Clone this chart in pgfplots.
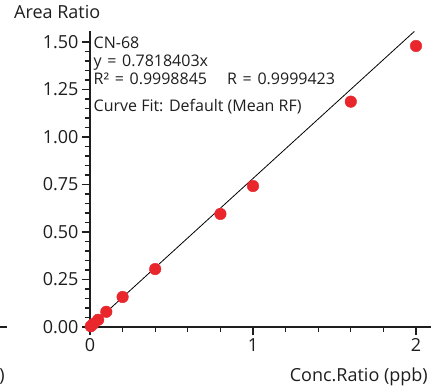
\documentclass[border=0pt]{standalone}
\usepackage{pgfplots}
\pgfplotsset{compat=1.18}
\usepackage{fontspec}
\setmainfont{Open Sans}
\definecolor{dotred}{RGB}{232,38,43}
\definecolor{txt}{RGB}{30,30,30}
\newcommand{\fs}{\fontsize{18bp}{20bp}\selectfont}
\newcommand{\fa}{\fontsize{16bp}{18bp}\selectfont}
\newcommand{\eq}{\hspace{1.5bp} = \hspace{1.5bp}}
\begin{document}
\begin{tikzpicture}
\path[use as bounding box] (-90bp,-64bp) rectangle (347bp,327bp);
\begin{axis}[
  at={(0,0)}, anchor=origin,
  x=163bp, y=190bp,
  xmin=0, xmax=2.09, ymin=0, ymax=1.558,
  axis x line*=bottom, axis y line*=left,
  axis line style={line width=1.6bp, color=txt},
  xtick={0,1,2}, minor x tick num=4,
  ytick={0,0.25,0.5,0.75,1,1.25,1.5}, minor y tick num=4,
  tick align=outside,
  major tick length=8bp, minor tick length=5bp,
  every tick/.style={line width=1.3bp, color=txt},
  tick label style={font=\fs, color=txt},
  /pgf/number format/assume math mode=true,
  yticklabel style={/pgf/number format/.cd, fixed, fixed zerofill, precision=2},
  xticklabel style={/pgf/number format/.cd, fixed, precision=0},
  clip=false,
]
\addplot[black, line width=0.8bp, no marks] coordinates {(0,0) (1.99,1.5558)};
\addplot[only marks, mark=*, mark size=5.8bp, color=dotred, mark options={draw=dotred, fill=dotred}] coordinates {
(0.005,0.004) (0.02,0.016) (0.05,0.038) (0.1,0.080) (0.2,0.158) (0.4,0.305) (0.8,0.595) (1.0,0.742) (1.6,1.186) (2.0,1.479)
};
\end{axis}
\node[anchor=base west, font=\fs, color=txt, inner sep=0pt] at (-76bp,308bp) {Area Ratio};
\node[anchor=base east, font=\fs, color=txt, inner sep=0pt] at (338bp,-54bp) {Conc.Ratio (ppb)};
\node[anchor=base east, font=\fs, color=txt, inner sep=0pt] at (-85bp,-54bp) {)};
\draw[txt, line width=1.3bp] (-90bp,0) -- (-83bp,0);
\node[anchor=base west, font=\fa, color=txt, inner sep=0pt] at (3.5bp,278bp) {CN-68};
\node[anchor=base west, font=\fa, color=txt, inner sep=0pt] at (3.5bp,260bp) {y\eq0.7818403x};
\node[anchor=base west, font=\fa, color=txt, inner sep=0pt] at (3.5bp,242bp) {R²\eq0.9998845};
\node[anchor=base west, font=\fa, color=txt, inner sep=0pt] at (137bp,242bp) {R\eq0.9999423};
\node[anchor=base west, font=\fa, color=txt, inner sep=0pt] at (3.5bp,215bp) {Curve Fit: Default (Mean RF)};
\end{tikzpicture}
\end{document}
